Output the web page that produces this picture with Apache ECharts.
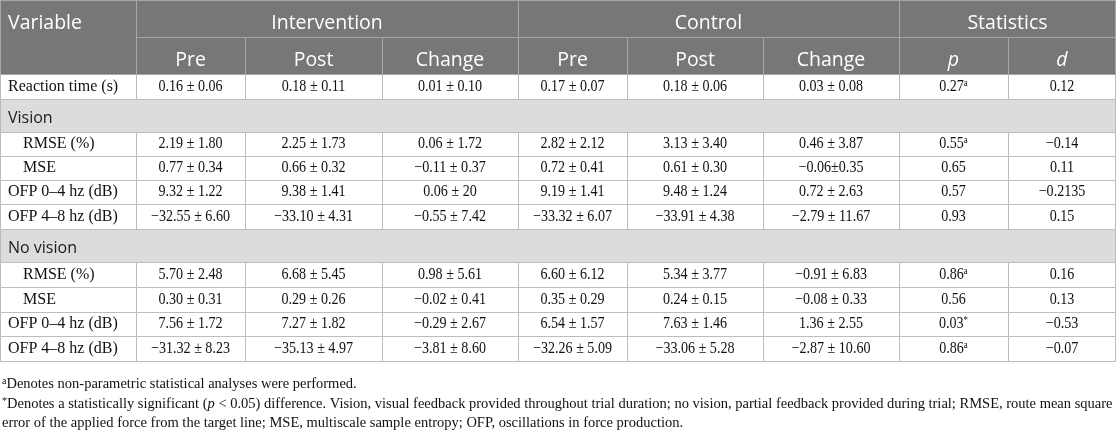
<!DOCTYPE html>
<html lang="en">
  <head>
    <meta charset="UTF-8" />
    <title>Table</title>
    <script src="https://cdn.jsdelivr.net/npm/echarts@6/dist/echarts.min.js"></script>
    <style>
      body { margin: 0; background: #fff; }
      #main { width: 1116px; height: 431px; }
    </style>
  </head>
  <body>
    <div id="main"></div>
    <script>
      // table values
      var groupHeads = ['Intervention', 'Control', 'Statistics'];
      var subHeads = ['Pre', 'Post', 'Change', 'Pre', 'Post', 'Change', 'p', 'd'];
      var rowGroup = ['', 'Vision', 'Vision', 'Vision', 'Vision', 'No vision', 'No vision', 'No vision', 'No vision'];
      var variable = ['Reaction time (s)', 'RMSE (%)', 'MSE', 'OFP 0–4 hz (dB)', 'OFP 4–8 hz (dB)', 'RMSE (%)', 'MSE', 'OFP 0–4 hz (dB)', 'OFP 4–8 hz (dB)'];
      var intPre = ['0.16 ± 0.06', '2.19 ± 1.80', '0.77 ± 0.34', '9.32 ± 1.22', '−32.55 ± 6.60', '5.70 ± 2.48', '0.30 ± 0.31', '7.56 ± 1.72', '−31.32 ± 8.23'];
      var intPost = ['0.18 ± 0.11', '2.25 ± 1.73', '0.66 ± 0.32', '9.38 ± 1.41', '−33.10 ± 4.31', '6.68 ± 5.45', '0.29 ± 0.26', '7.27 ± 1.82', '−35.13 ± 4.97'];
      var intChange = ['0.01 ± 0.10', '0.06 ± 1.72', '−0.11 ± 0.37', '0.06 ± 20', '−0.55 ± 7.42', '0.98 ± 5.61', '−0.02 ± 0.41', '−0.29 ± 2.67', '−3.81 ± 8.60'];
      var ctlPre = ['0.17 ± 0.07', '2.82 ± 2.12', '0.72 ± 0.41', '9.19 ± 1.41', '−33.32 ± 6.07', '6.60 ± 6.12', '0.35 ± 0.29', '6.54 ± 1.57', '−32.26 ± 5.09'];
      var ctlPost = ['0.18 ± 0.06', '3.13 ± 3.40', '0.61 ± 0.30', '9.48 ± 1.24', '−33.91 ± 4.38', '5.34 ± 3.77', '0.24 ± 0.15', '7.63 ± 1.46', '−33.06 ± 5.28'];
      var ctlChange = ['0.03 ± 0.08', '0.46 ± 3.87', '−0.06±0.35', '0.72 ± 2.63', '−2.79 ± 11.67', '−0.91 ± 6.83', '−0.08 ± 0.33', '1.36 ± 2.55', '−2.87 ± 10.60'];
      var pValue = ['0.27', '0.55', '0.65', '0.57', '0.93', '0.86', '0.56', '0.03', '0.86'];
      var pMark = ['a', 'a', '', '', '', 'a', '', '*', 'a'];
      var effectD = ['0.12', '−0.14', '0.11', '−0.2135', '0.15', '0.16', '0.13', '−0.53', '−0.07'];
      var footnotes = [
        '{sup|a}Denotes non-parametric statistical analyses were performed.',
        '{sup|*}Denotes a statistically significant ({it|p} < 0.05) difference. Vision, visual feedback provided throughout trial duration; no vision, partial feedback provided during trial; RMSE, route mean square',
        'error of the applied force from the target line; MSE, multiscale sample entropy; OFP, oscillations in force production.'
      ];

      // layout (pixel grid of the table)
      var W = 1116, H = 431;
      var colEdges = [0, 136, 245, 382, 518, 627, 763, 899, 1008, 1116];
      var rowEdges = [0, 37, 74, 99, 132, 156, 180, 204, 229, 262, 287, 312, 336, 361];
      var indentRows = [1, 2, 5, 6];
      var noteY = [383, 403, 423];

      var styles = {
        head: { fill: '#777777', stroke: '#a6a6a6', color: '#ffffff', font: '19.5px "Open Sans"', dy: 5 },
        group: { fill: '#dcdcdc', stroke: '#bdbdbd', color: '#1a1a1a', font: '16px "Open Sans"', dy: 3 },
        label: { fill: '#ffffff', stroke: '#bdbdbd', color: '#111111', font: '16px "Liberation Serif"', dy: 0 },
        body: { fill: '#ffffff', stroke: '#bdbdbd', color: '#111111', font: '16px "Liberation Serif"', dy: 0, sx: 0.88 }
      };

      // build cell list
      var cells = [];
      var bodyCols = [intPre, intPost, intChange, ctlPre, ctlPost, ctlChange];
      var r = 2, lastGroup = '';
      variable.forEach(function (v, i) {
        if (rowGroup[i] && rowGroup[i] !== lastGroup) {
          cells.push({ c0: 0, c1: 9, r0: r, r1: r + 1, text: rowGroup[i], kind: 'group', align: 'left' });
          r++;
        }
        lastGroup = rowGroup[i];
        cells.push({ c0: 0, c1: 1, r0: r, r1: r + 1, text: v, kind: 'label', align: 'left', indent: indentRows.indexOf(i) > -1 });
        bodyCols.forEach(function (col, k) {
          cells.push({ c0: k + 1, c1: k + 2, r0: r, r1: r + 1, text: col[i], kind: 'body' });
        });
        cells.push({ c0: 7, c1: 8, r0: r, r1: r + 1, text: pValue[i] + (pMark[i] ? '{sup|' + pMark[i] + '}' : ''), kind: 'body' });
        cells.push({ c0: 8, c1: 9, r0: r, r1: r + 1, text: effectD[i], kind: 'body' });
        r++;
      });
      // header on top
      cells.push({ c0: 0, c1: 1, r0: 0, r1: 2, tr: 1, text: 'Variable', kind: 'head', align: 'left' });
      [[1, 4], [4, 7], [7, 9]].forEach(function (s, k) {
        cells.push({ c0: s[0], c1: s[1], r0: 0, r1: 1, text: groupHeads[k], kind: 'head' });
      });
      subHeads.forEach(function (h, k) {
        cells.push({ c0: k + 1, c1: k + 2, r0: 1, r1: 2, text: h, kind: 'head', italic: k > 5 });
      });

      var rich = {
        sup: { fontSize: 10, verticalAlign: 'top', fontFamily: 'Liberation Serif', fill: '#111', lineHeight: 17 },
        it: { fontStyle: 'italic', fontSize: 14.5, fontFamily: 'Liberation Serif', fill: '#111' }
      };

      function renderItem(params, api) {
        var c = cells[params.dataIndex];
        var st = styles[c.kind];
        var a = api.coord([colEdges[c.c0], rowEdges[c.r0]]);
        var b = api.coord([colEdges[c.c1], rowEdges[c.r1]]);
        var x0 = Math.round(a[0]) + 0.5, y0 = Math.round(a[1]) + 0.5;
        var x1 = Math.min(Math.round(b[0]) + 0.5, W - 0.5), y1 = Math.round(b[1]) + 0.5;
        var ty = c.tr != null
          ? api.coord([0, (rowEdges[c.r0] + rowEdges[c.tr]) / 2])[1]
          : (a[1] + b[1]) / 2;
        var tx = c.align === 'left' ? a[0] + (c.indent ? 23 : 8) : (a[0] + b[0]) / 2;
        return {
          type: 'group',
          children: [
            { type: 'rect', shape: { x: x0, y: y0, width: x1 - x0, height: y1 - y0 },
              style: { fill: st.fill, stroke: st.stroke, lineWidth: 1 } },
            { type: 'text', x: tx, y: ty + st.dy, scaleX: st.sx || 1,
              style: { text: c.text, font: (c.italic ? 'italic ' : '') + st.font, fill: st.color,
                align: c.align || 'center', verticalAlign: 'middle', rich: rich } }
          ]
        };
      }

      var myChart = echarts.init(document.getElementById('main'));
      var option = {
        animation: false,
        grid: { left: 0, right: 0, top: 0, bottom: 0 },
        xAxis: { type: 'value', min: 0, max: W, show: false },
        yAxis: { type: 'value', min: 0, max: H, inverse: true, show: false },
        series: [{
          type: 'custom',
          silent: true,
          clip: false,
          renderItem: renderItem,
          encode: { x: 0, y: 1 },
          data: cells.map(function (c) { return [colEdges[c.c0], rowEdges[c.r0]]; })
        }],
        graphic: footnotes.map(function (t, i) {
          return {
            type: 'text', left: 2, top: noteY[i] - 7, silent: true,
            style: { text: t, font: '14.5px "Liberation Serif"', fill: '#111', rich: rich }
          };
        })
      };
      myChart.setOption(option);
    </script>
  </body>
</html>
